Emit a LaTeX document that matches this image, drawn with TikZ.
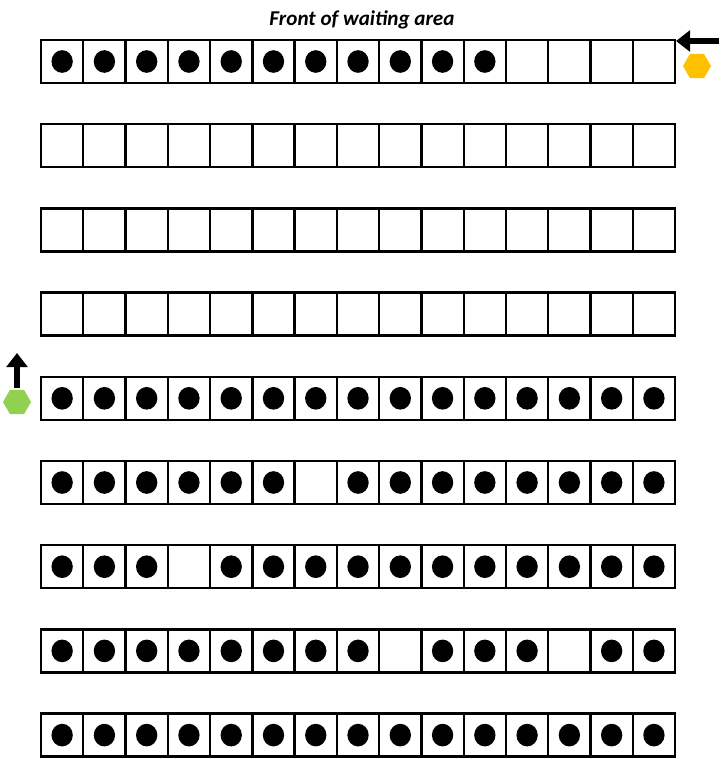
\documentclass[tikz,border=0pt]{standalone}
\usepackage{fontspec}
\setsansfont{Carlito}
\usetikzlibrary{arrows.meta,shapes.geometric}

\definecolor{hexyellow}{HTML}{FFC000}
\definecolor{hexgreen}{HTML}{92D050}

\begin{document}
\begin{tikzpicture}[
		x=0.03cm, y=-0.03cm,
		cell/.style={draw, line width=2pt, minimum width=1.268cm, minimum height=1.29cm, inner sep=0pt, outer sep=0pt},
		person/.style={fill=black},
		hexa/.style={regular polygon, regular polygon sides=6, minimum size=0.84cm, inner sep=0pt},
		arr/.style={-{Triangle[length=0.42cm, width=0.62cm]}, line width=5pt}
		]
		\useasboundingbox (0,0) rectangle (720,759);
		
		\node[font=\sffamily\bfseries\itshape\fontsize{18}{21}\selectfont] (title) at (362,20) {Front of waiting area};
		
		% rows of seats, 1 = occupied
		\foreach \r/\row in {
			1/{1,1,1,1,1,1,1,1,1,1,1,0,0,0,0},
			2/{0,0,0,0,0,0,0,0,0,0,0,0,0,0,0},
			3/{0,0,0,0,0,0,0,0,0,0,0,0,0,0,0},
			4/{0,0,0,0,0,0,0,0,0,0,0,0,0,0,0},
			5/{1,1,1,1,1,1,1,1,1,1,1,1,1,1,1},
			6/{1,1,1,1,1,1,0,1,1,1,1,1,1,1,1},
			7/{1,1,1,0,1,1,1,1,1,1,1,1,1,1,1},
			8/{1,1,1,1,1,1,1,1,0,1,1,1,0,1,1},
			9/{1,1,1,1,1,1,1,1,1,1,1,1,1,1,1}}
		{
			\foreach \f [count=\i] in \row {
				\node[cell] (cell-\r-\i) at ({41+(\i-0.5)*42.27}, {61.5+(\r-1)*84.2}) {};
				\ifnum\f=1
				\fill[person] (cell-\r-\i) ellipse [x radius=0.32cm, y radius=0.34cm];
				\fi
			}
		}
		
		\node[hexa, fill=hexyellow] (yellow) at (697,66) {};
		\node[hexa, fill=hexgreen] (green) at (17,402) {};
		
		\coordinate (in-tail) at (719,41);
		\coordinate (in-tip) at (676,41);
		\coordinate (out-tail) at (17,388);
		\coordinate (out-tip) at (17,353);
		
		\draw[arr] (in-tail) -- (in-tip);
		\draw[arr] (out-tail) -- (out-tip);
	\end{tikzpicture}
\end{document}
